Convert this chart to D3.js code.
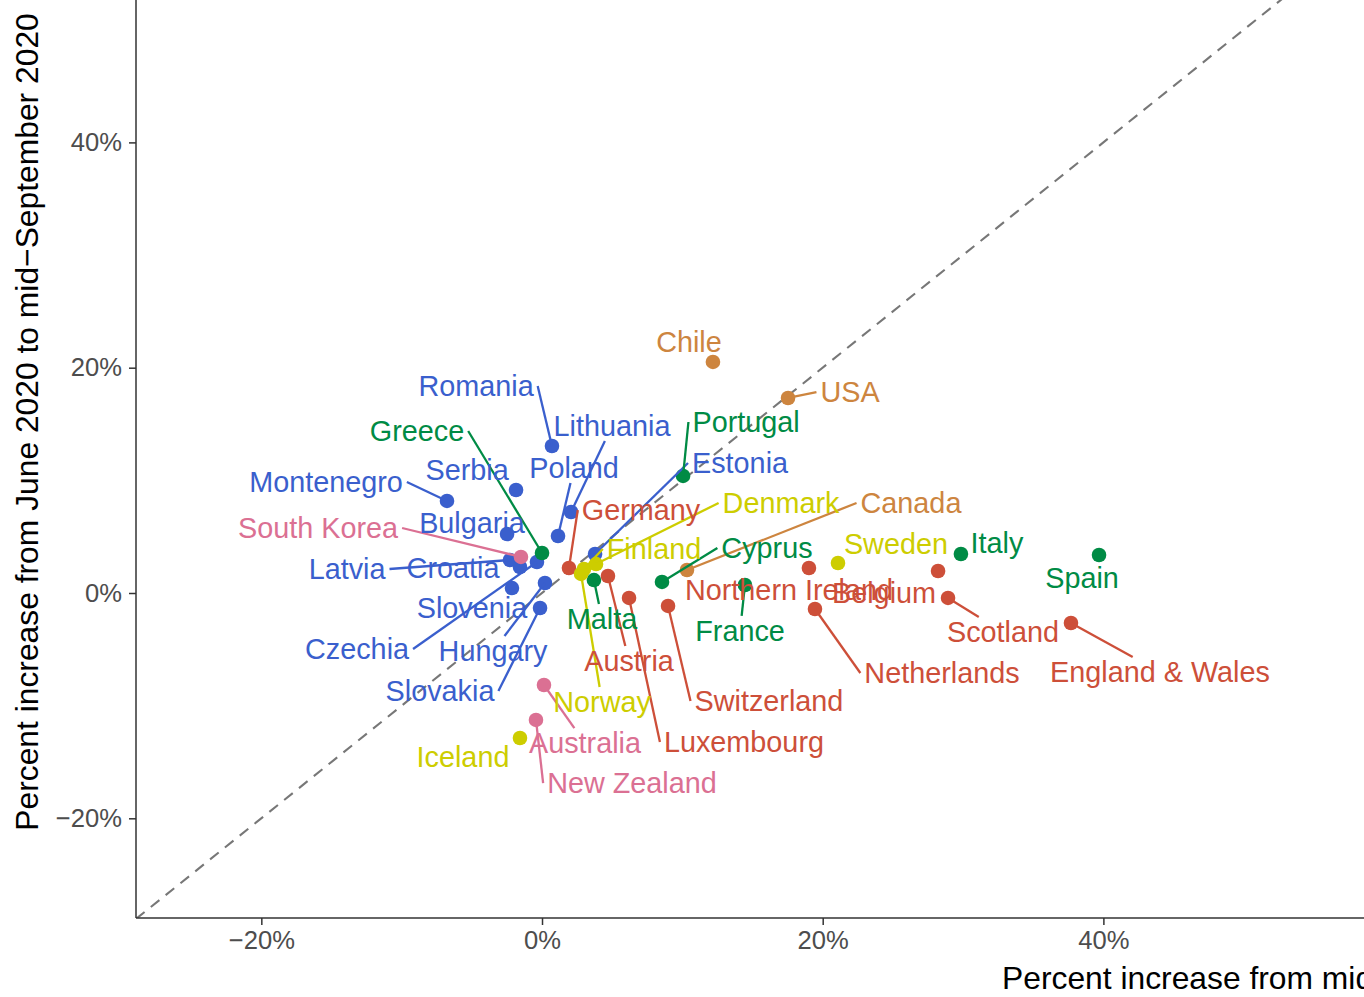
<!DOCTYPE html>
<html>
<head>
<meta charset="utf-8">
<script src="https://cdn.jsdelivr.net/npm/d3@7"></script>
<style>
  html, body { margin: 0; padding: 0; background: #fff; }
  svg { display: block; font-family: "Liberation Sans", Arial, sans-serif; }
</style>
</head>
<body>
<svg id="chart" width="1364" height="997"></svg>
<script>
// ---------------- data ----------------
const countries = ["Romania","Lithuania","Poland","Serbia","Montenegro","Bulgaria","Latvia","Croatia","Czechia","Slovenia","Hungary","Slovakia","Estonia",
  "Greece","Portugal","Malta","Cyprus","France","Italy","Spain",
  "Germany","Austria","Luxembourg","Switzerland","Northern Ireland","Netherlands","Belgium","Scotland","England & Wales",
  "Chile","USA","Canada",
  "Finland","Denmark","Norway","Sweden","Iceland",
  "South Korea","Australia","New Zealand"];
const groups = ["east","east","east","east","east","east","east","east","east","east","east","east","east",
  "south","south","south","south","south","south","south",
  "west","west","west","west","west","west","west","west","west",
  "americas","americas","americas",
  "nordic","nordic","nordic","nordic","nordic",
  "pacific","pacific","pacific"];
// x: percent increase from mid-March to June 2020; y: June to mid-September 2020
const xChange = [0.71,2.07,1.14,-1.85,-6.77,-2.49,-2.28,-1.57,-0.36,-2.14,0.21,-0.14,3.78,
  0.0,10.05,3.70,8.55,14.46,29.85,39.69,
  1.92,4.70,6.20,8.98,19.02,19.45,28.22,28.93,37.69,
  12.18,17.53,10.33,
  2.99,3.85,2.78,21.09,-1.57,
  -1.50,0.14,-0.43];
const yChange = [13.05,7.19,5.06,9.14,8.17,5.24,2.93,2.31,2.75,0.44,0.89,-1.33,3.46,
  3.55,10.39,1.15,0.98,0.71,3.46,3.37,
  2.22,1.51,-0.44,-1.15,2.22,-1.42,1.95,-0.44,-2.66,
  20.51,17.31,2.04,
  2.13,2.57,1.69,2.66,-12.87,
  3.20,-8.17,-11.27];
// repelled label centres (in data units)
const labelX = [-4.70,4.99,2.28,-5.34,-15.39,-4.99,-13.89,-6.34,-13.18,-4.99,-3.49,-7.27,14.11,
  -8.91,14.54,4.28,16.03,14.11,32.42,38.48,
  7.05,6.20,14.39,16.17,17.60,28.50,24.37,32.85,44.03,
  10.47,21.95,26.29,
  7.98,17.03,4.28,25.22,-5.63,
  -15.96,3.06,6.41];
const labelY = [18.38,14.82,11.10,10.92,9.85,6.21,2.13,2.22,-4.97,-1.33,-5.15,-8.70,11.54,
  14.38,15.18,-2.31,3.99,-3.37,4.44,1.33,
  7.37,-6.04,-13.23,-9.59,0.27,-7.10,0.00,-3.46,-7.01,
  22.28,17.84,7.99,
  3.91,7.99,-9.68,4.35,-14.56,
  5.77,-13.32,-16.87];
const xTicks = [-20, 0, 20, 40];
const yTicks = [-20, 0, 20, 40];
const xDomain = [-28.93, 58.57];
const yDomain = [-28.85, 52.64];
const xTitle = "Percent increase from mid\u2212March 2020 to June 2020";
const yTitle = "Percent increase from June 2020 to mid\u2212September 2020";

const groupColors = {
  east: "#3A5FCD", south: "#008B45", west: "#CD4F39",
  americas: "#CD853F", nordic: "#CDCD00", pacific: "#DB7093"
};

// ---------------- layout ----------------
const W = 1364, H = 997;
const margin = { left: 136, top: 0, right: 0, bottom: 79 };
const svg = d3.select("#chart");

const x = d3.scaleLinear().domain(xDomain).range([margin.left, W - margin.right]);
const y = d3.scaleLinear().domain(yDomain).range([H - margin.bottom, margin.top]);

const data = countries.map((c, i) => ({
  name: c, g: groups[i], x: xChange[i], y: yChange[i], lx: labelX[i], ly: labelY[i]
}));

svg.append("defs").append("clipPath").attr("id", "panel")
  .append("rect").attr("x", margin.left).attr("y", margin.top)
  .attr("width", W - margin.left - margin.right).attr("height", H - margin.top - margin.bottom);

// y = x reference line
const lo = Math.min(xDomain[0], yDomain[0]), hi = Math.max(xDomain[1], yDomain[1]);
svg.append("line")
  .attr("clip-path", "url(#panel)")
  .attr("x1", x(lo)).attr("y1", y(lo)).attr("x2", x(hi)).attr("y2", y(hi))
  .attr("stroke", "#777").attr("stroke-width", 2.1).attr("stroke-dasharray", "11,8");

// axes
const fmt = d => (d < 0 ? "\u2212" + Math.abs(d) : d) + "%";
const xAxis = d3.axisBottom(x).tickValues(xTicks).tickFormat(fmt).tickSizeOuter(0).tickSize(7).tickPadding(6);
const yAxis = d3.axisLeft(y).tickValues(yTicks).tickFormat(fmt).tickSizeOuter(0).tickSize(7).tickPadding(7);

const gx = svg.append("g").attr("transform", `translate(0,${H - margin.bottom})`).call(xAxis);
const gy = svg.append("g").attr("transform", `translate(${margin.left},0)`).call(yAxis);
[gx, gy].forEach(g => {
  g.select(".domain").attr("stroke", "#333").attr("stroke-width", 1.5);
  g.selectAll(".tick line").attr("stroke", "#333").attr("stroke-width", 1.5);
  g.selectAll(".tick text").attr("fill", "#4D4D4D").style("font-size", "25.6px")
    .style("font-family", "'Liberation Sans', Arial, sans-serif");
});
gx.select(".domain").attr("d", `M${margin.left},0H${W}`);
gy.select(".domain").attr("d", `M0,${H - margin.bottom}V0`);

// titles
svg.append("text").attr("x", 1002).attr("y", 989)
  .style("font-size", "31.8px").attr("fill", "#000").text(xTitle);
svg.append("text")
  .attr("transform", `translate(38,${(12 + 832) / 2}) rotate(-90)`)
  .attr("text-anchor", "middle")
  .style("font-size", "31.8px").attr("fill", "#000").text(yTitle);

// points
svg.append("g").selectAll("circle").data(data).join("circle")
  .attr("cx", d => x(d.x)).attr("cy", d => y(d.y)).attr("r", 7.3)
  .attr("fill", d => groupColors[d.g]);

// labels with repel-style segments
const lab = svg.append("g");
data.forEach(d => {
  const cx = x(d.lx), cy = y(d.ly);
  const t = lab.append("text")
    .attr("x", cx).attr("y", cy)
    .attr("text-anchor", "middle").attr("dy", "0.35em")
    .style("font-size", "28.8px").attr("fill", groupColors[d.g]).text(d.name);
  const w = t.node().getComputedTextLength();
  const pad = 4, hh = 15;
  const x1 = cx - w / 2 - pad, x2 = cx + w / 2 + pad, y1 = cy - hh, y2 = cy + hh;
  const px = x(d.x), py = y(d.y);
  let ex, ey;
  if (px < x1 || px > x2) {
    ex = px < x1 ? x1 : x2;
    ey = cy;
  } else if (py < y1 || py > y2) {
    const edge = py < y1 ? y1 : y2;
    const tt = (edge - py) / (cy - py);
    ex = px + (cx - px) * tt;
    ey = edge;
  } else {
    return;
  }
  const len = Math.hypot(ex - px, ey - py);
  if (len < 23) return;
  lab.insert("line", "text")
    .attr("x1", px).attr("y1", py).attr("x2", ex).attr("y2", ey)
    .attr("stroke", groupColors[d.g]).attr("stroke-width", 2.3);
});
</script>
</body>
</html>
